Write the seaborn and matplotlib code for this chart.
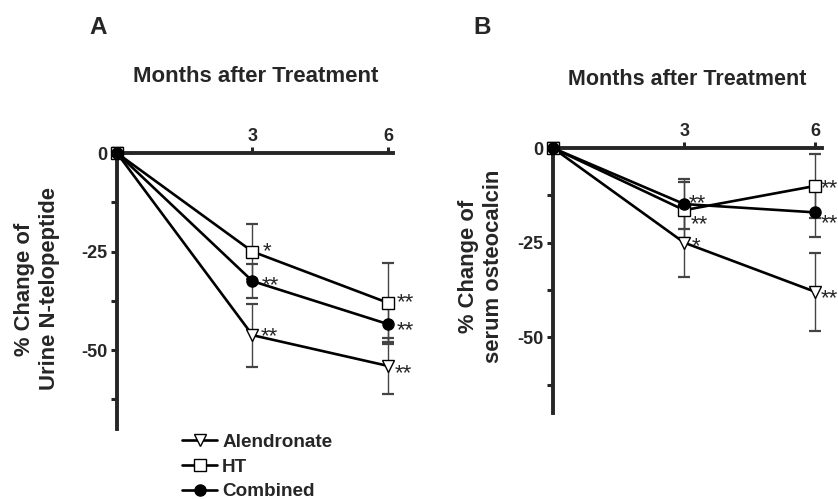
import matplotlib
matplotlib.use("Agg")
import matplotlib.pyplot as plt
import seaborn as sns
import numpy as np
import pandas as pd
from matplotlib.lines import Line2D
from matplotlib.ticker import MultipleLocator

sns.set_style("ticks")
plt.rcParams['font.family'] = ['Liberation Sans', 'DejaVu Sans']
plt.rcParams['font.weight'] = 'bold'

months = [0, 3, 6]
series = ["Alendronate", "HT", "Combined"]

# Panel A: Urine N-telopeptide
a_alen = [0, -46.2, -54.0]
a_ht = [0, -25.0, -38.0]
a_comb = [0, -32.5, -43.4]
a_alen_se = [0, 8.0, 7.2]
a_ht_se = [0, 7.0, 10.0]
a_comb_se = [0, 4.3, 5.0]
a_stars = {"Alendronate": ["", "**", "**"], "HT": ["", "*", "**"], "Combined": ["", "**", "**"]}

# Panel B: serum osteocalcin
b_alen = [0, -25.0, -38.0]
b_ht = [0, -16.4, -10.0]
b_comb = [0, -14.8, -17.0]
b_alen_se = [0, 9.0, 10.4]
b_ht_se = [0, 7.4, 8.4]
b_comb_se = [0, 6.6, 6.5]
b_stars = {"Alendronate": ["", "*", "**"], "HT": ["", "**", "**"], "Combined": ["", "**", "**"]}

markers = {"Alendronate": "v", "HT": "s", "Combined": "o"}
faces = {"Alendronate": "white", "HT": "white", "Combined": "black"}
msizes = {"Alendronate": 9, "HT": 8, "Combined": 8}

fig = plt.figure(figsize=(8.38, 4.99), dpi=100)
axA = fig.add_axes([0.1396, 0.1403, 0.3288, 0.553])
axB = fig.add_axes([0.6599, 0.1723, 0.321, 0.531])

# star label offsets in pixels (dx right, dy up, relative to baseline)
star_off = {
    "A": {("HT", 1): (15, -6), ("Combined", 1): (18, -10), ("Alendronate", 1): (17, -7),
          ("HT", 2): (17, -5), ("Combined", 2): (17, -12), ("Alendronate", 2): (15, -13)},
    "B": {("Combined", 1): (13, -5), ("HT", 1): (15, -20), ("Alendronate", 1): (12, -10),
          ("HT", 2): (14, -8), ("Combined", 2): (14, -17), ("Alendronate", 2): (14, -12)},
}


def draw(ax, key, vals, ses, stars, xmax):
    for name in series:
        y = vals[name]
        e = ses[name]
        ax.errorbar(months[1:], y[1:], yerr=e[1:], fmt="none", ecolor="#444444",
                    elinewidth=1.0, capsize=4.5, capthick=1.6, zorder=2, clip_on=False)
        df = pd.DataFrame({"month": months, "val": y})
        sns.lineplot(data=df, x="month", y="val", ax=ax, color="black", linewidth=1.9,
                     marker=markers[name], markersize=msizes[name],
                     markerfacecolor=faces[name], markeredgecolor="black",
                     markeredgewidth=1.0, zorder=3, clip_on=False, legend=False)
        for i in (1, 2):
            dx, dy = star_off[key][(name, i)]
            ax.annotate(stars[name][i], (months[i], y[i]), xytext=(dx, dy),
                        textcoords="offset pixels", ha="center", va="baseline",
                        fontsize=16, fontweight="normal", zorder=4,
                        annotation_clip=False)
    ax.set_xlim(0, xmax)
    ax.set_ylim(-70, 0)
    ax.spines["right"].set_visible(False)
    ax.spines["bottom"].set_visible(False)
    ax.spines["top"].set_position(("data", 0))
    ax.spines["left"].set_position(("data", 0))
    for s in ("top", "left"):
        ax.spines[s].set_linewidth(2.8)
    ax.xaxis.set_ticks_position("top")
    ax.set_xticks([3, 6])
    ax.set_xticklabels(["3", "6"])
    ax.set_yticks([0, -25, -50])
    ax.set_yticklabels(["0", "-25", "-50"])
    ax.yaxis.set_minor_locator(MultipleLocator(12.5))
    ax.tick_params(axis="both", which="major", length=4, width=2.2, labelsize=13, pad=2)
    ax.tick_params(axis="y", which="major", pad=3)
    ax.tick_params(axis="y", which="minor", length=4, width=2.2)
    ax.tick_params(axis="x", which="minor", top=False, bottom=False)
    for lab in ax.get_xticklabels() + ax.get_yticklabels():
        lab.set_fontweight("bold")
    ax.set_xlabel("")
    ax.set_ylabel("")


draw(axA, "A",
     {"Alendronate": a_alen, "HT": a_ht, "Combined": a_comb},
     {"Alendronate": a_alen_se, "HT": a_ht_se, "Combined": a_comb_se},
     a_stars, 6.1)
draw(axB, "B",
     {"Alendronate": b_alen, "HT": b_ht, "Combined": b_comb},
     {"Alendronate": b_alen_se, "HT": b_ht_se, "Combined": b_comb_se},
     b_stars, 6.15)

# titles and labels
fig.text(256 / 838, 1 - 76 / 499, "Months after Treatment", ha="center", va="center",
         fontsize=16, fontweight="bold")
fig.text(687 / 838, 1 - 80 / 499, "Months after Treatment", ha="center", va="center",
         fontsize=15.5, fontweight="bold")
fig.text(98 / 838, 1 - 28 / 499, "A", ha="center", va="center", fontsize=17.5, fontweight="bold")
fig.text(482 / 838, 1 - 28 / 499, "B", ha="center", va="center", fontsize=17.5, fontweight="bold")
fig.text(37 / 838, 1 - 289 / 499, "% Change of\nUrine N-telopeptide", ha="center", va="center",
         rotation=90, fontsize=15.8, fontweight="bold", linespacing=1.2)
fig.text(481 / 838, 1 - 266 / 499, "% Change of\nserum osteocalcin", ha="center", va="center",
         rotation=90, fontsize=15.8, fontweight="bold", linespacing=1.2)

handles = [Line2D([], [], color="black", linewidth=1.9, marker=markers[n],
                  markersize=msizes[n], markerfacecolor=faces[n], markeredgecolor="black",
                  markeredgewidth=1.0) for n in series]
leg = fig.legend(handles, series, loc="upper left", bbox_to_anchor=(174 / 838, 1 - 426 / 499),
                 frameon=False, prop={"family": "Liberation Sans", "weight": "bold", "size": 13.6},
                 handlelength=1.9, handletextpad=0.25, labelspacing=0.4, borderaxespad=0)

fig.savefig("out.png", dpi=100)
